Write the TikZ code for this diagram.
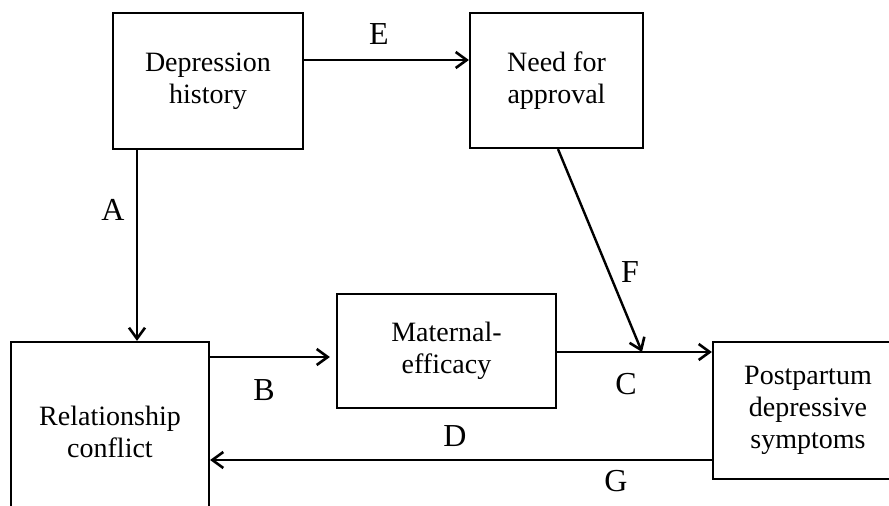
\documentclass[tikz,border=0pt]{standalone}
\usepackage{fontspec}
\setmainfont{Liberation Serif}
\usetikzlibrary{arrows.meta}
\begin{document}
\begin{tikzpicture}[x=1pt,y=-1pt,
  boxn/.style={draw,line width=2.2pt,inner sep=0pt,align=center,
    font=\fontsize{28}{32}\selectfont},
  lab/.style={font=\fontsize{32}{32}\selectfont,inner sep=0pt},
  arr/.style={line width=2.4pt,-{Straight Barb[length=11pt,width=16pt,line width=2.6pt]}}]
\useasboundingbox (0,0) rectangle (889,506);
\node[boxn,minimum width=190pt,minimum height=136pt] (dep) at (208,81) {Depression\\history};
\node[boxn,minimum width=173pt,minimum height=135pt] (need) at (556.5,80.5) {Need for\\approval};
\node[boxn,minimum width=219pt,minimum height=114pt] (mat) at (446.5,351) {Maternal-\\efficacy};
\node[boxn,minimum width=198pt,minimum height=180pt] (rel) at (110,432) {Relationship\\conflict};
\node[boxn,minimum width=190pt,minimum height=137pt] (post) at (808,410.5) {Postpartum\\depressive\\symptoms};
\coordinate (ax) at (137,0);
\coordinate (ey) at (0,60);
\coordinate (by) at (0,357);
\coordinate (cy) at (0,352);
\coordinate (gy) at (0,460);
\coordinate (fs) at (558,0);
\coordinate (fe) at (642,352);
\draw[arr] (dep.south -| ax) -- (rel.north -| ax);
\draw[arr] (dep.east |- ey) -- (need.west |- ey);
\draw[arr,shorten >=6pt] (rel.east |- by) -- (mat.west |- by);
\draw[arr] (mat.east |- cy) -- (post.west |- cy);
\draw[arr] (need.south -| fs) -- (fe);
\draw[arr] (post.west |- gy) -- (rel.east |- gy);
\node[lab] (la) at (113,210) {A};
\node[lab] (lb) at (264,390) {B};
\node[lab] (lc) at (626,384) {C};
\node[lab] (ld) at (455,436) {D};
\node[lab] (le) at (379,34) {E};
\node[lab] (lf) at (630,272) {F};
\node[lab] (lg) at (616,481) {G};
\end{tikzpicture}
\end{document}
